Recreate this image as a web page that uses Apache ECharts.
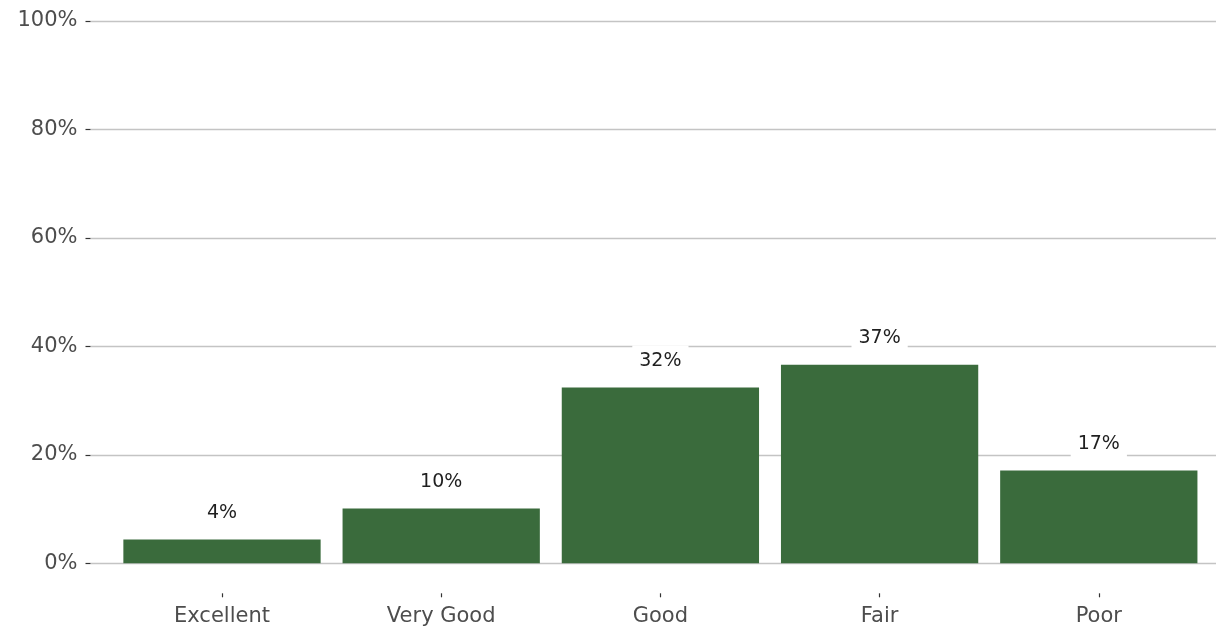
<!DOCTYPE html>
<html>
<head>
<meta charset="utf-8">
<script src="https://cdn.jsdelivr.net/npm/echarts@6/dist/echarts.min.js"></script>
<style>
  html, body { margin: 0; padding: 0; background: #fff; }
  #chart { width: 1216px; height: 632px; }
</style>
</head>
<body>
<div id="chart"></div>
<script>
// survey rating shares (%)
const categories = ['Excellent', 'Very Good', 'Good', 'Fair', 'Poor']
const values = [4.4, 10.1, 32.4, 36.6, 17.1]
const yTicks = [0, 20, 40, 60, 80, 100]

const FONT = 'DejaVu Sans, Liberation Sans, sans-serif'
const chart = echarts.init(document.getElementById('chart'))

// grid 0: full-width y axis + gridlines (run past the outer bars, ggplot panel padding)
// grid 1: the bars
// grid 2: same columns but a bit taller at the bottom, only for the x ticks/labels
chart.setOption({
  animation: false,
  backgroundColor: '#ffffff',
  grid: [
    { left: 90.5, right: 0, top: 21, bottom: 68.7 },
    { left: 112.4, right: 7.6, top: 21, bottom: 68.7 },
    { left: 112.4, right: 7.6, top: 21, bottom: 38.7 },
  ],
  xAxis: [
    { type: 'value', gridIndex: 0, min: 0, max: 1, show: false },
    { type: 'category', gridIndex: 1, data: categories, show: false },
    {
      type: 'category',
      gridIndex: 2,
      data: categories,
      axisLine: { show: false },
      axisTick: { show: true, alignWithLabel: true, length: 4, lineStyle: { color: '#333333', width: 1.2 } },
      axisLabel: { margin: 13, fontSize: 21, color: '#4d4d4d', fontFamily: FONT },
    },
  ],
  yAxis: [
    {
      type: 'value',
      gridIndex: 0,
      min: yTicks[0],
      max: yTicks[yTicks.length - 1],
      interval: 20,
      axisLine: { show: false },
      axisTick: { show: true, length: 5, lineStyle: { color: '#333333', width: 1.2 } },
      axisLabel: { margin: 13, fontSize: 21, color: '#4d4d4d', fontFamily: FONT, formatter: '{value}%' },
      splitLine: { lineStyle: { color: '#c4c4c4', width: 1.3 } },
    },
    { type: 'value', gridIndex: 1, min: 0, max: 100, show: false },
    { type: 'value', gridIndex: 2, min: 0, max: 100, show: false },
  ],
  series: [
    {
      type: 'bar',
      xAxisIndex: 1,
      yAxisIndex: 1,
      data: values,
      barWidth: '90%',
      itemStyle: { color: '#3a6b3c' },
      label: {
        show: true,
        position: 'top',
        distance: 11,
        formatter: (p) => Math.round(p.value) + '%',
        fontSize: 19,
        color: '#1f1f1f',
        fontFamily: FONT,
        backgroundColor: '#ffffff',
        padding: [6, 7],
      },
    },
  ],
})
</script>
</body>
</html>
